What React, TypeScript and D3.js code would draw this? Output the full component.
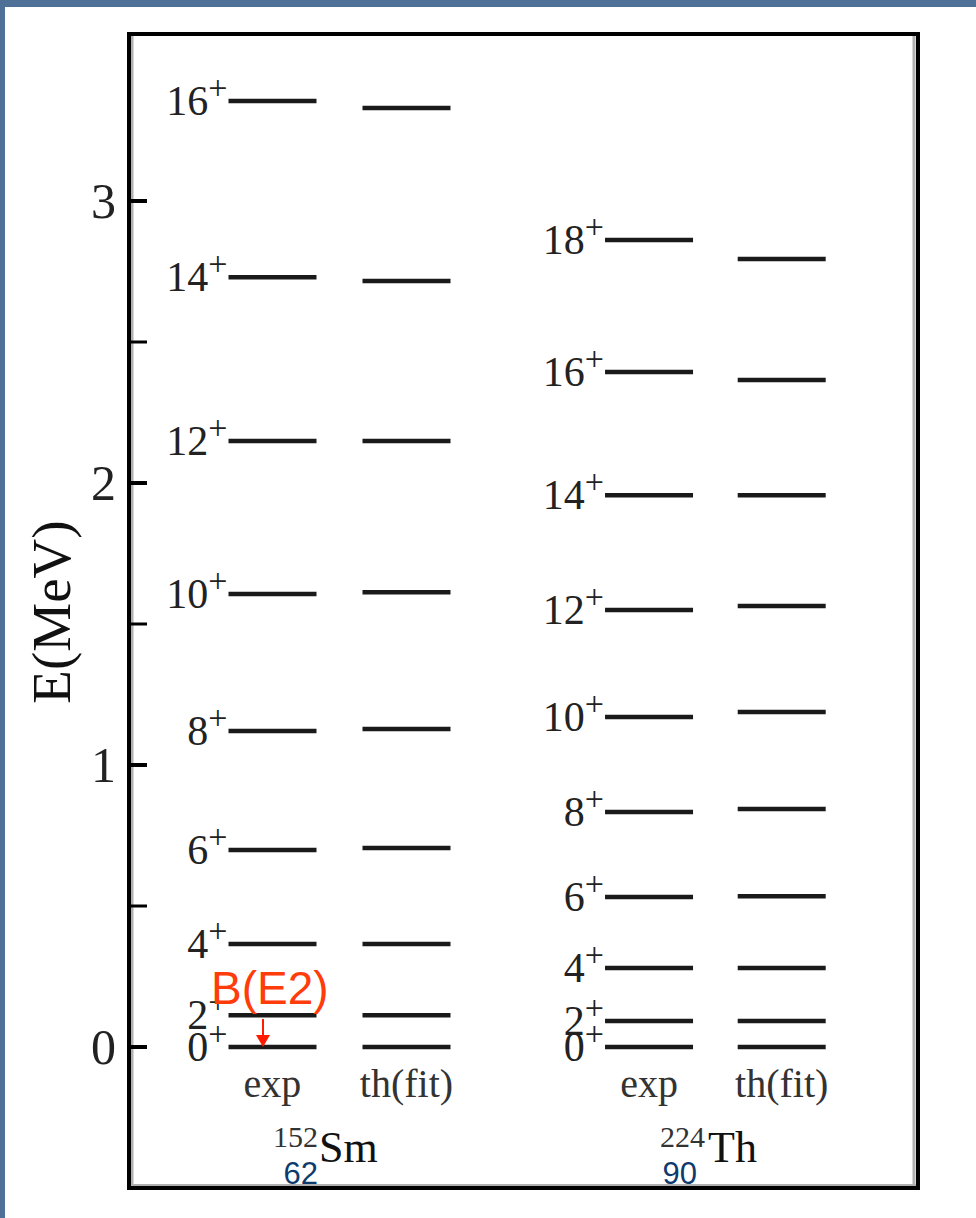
import React from "react";
import * as d3 from "d3";

// level energies in MeV
const spinsSm = [0, 2, 4, 6, 8, 10, 12, 14, 16];
const smExp = [0, 0.113, 0.365, 0.699, 1.121, 1.606, 2.149, 2.73, 3.355];
const smTh = [0, 0.113, 0.365, 0.706, 1.128, 1.613, 2.149, 2.716, 3.33];

const spinsTh = [0, 2, 4, 6, 8, 10, 12, 14, 16, 18];
const thExp = [0, 0.092, 0.28, 0.532, 0.833, 1.17, 1.55, 1.957, 2.394, 2.862];
const thTh = [0, 0.092, 0.28, 0.535, 0.844, 1.188, 1.564, 1.957, 2.365, 2.794];

const majorTicks = [0, 1, 2, 3];
const minorTicks = [0.5, 1.5, 2.5];
const columnLabels = ["exp", "th(fit)", "exp", "th(fit)"];

const W = 976;
const H = 1218;
const frame = { left: 129, right: 918, top: 34, bottom: 1188 };

const serif = "'Liberation Serif', 'Times New Roman', serif";
const sans = "'Liberation Sans', Arial, sans-serif";

export default function App() {
  const y = d3.scaleLinear().domain([0, 1]).range([1047, 765]);
  // column centres in "column units"
  const x = d3.scaleLinear().domain([1, 2]).range([272.5, 406.5]);
  const half = 44;

  const columns = [
    { pos: 1, data: smExp, spins: spinsSm, label: true },
    { pos: 2, data: smTh, spins: spinsSm, label: false },
    { pos: 3.81, data: thExp, spins: spinsTh, label: true },
    { pos: 4.8, data: thTh, spins: spinsTh, label: false },
  ];

  const arrowX = 263;

  return (
    <svg
      width={W}
      height={H}
      style={{ position: "absolute", left: 0, top: 0, display: "block" }}
    >
      <rect x={0} y={0} width={W} height={H} fill="#fff" />
      <rect x={0} y={0} width={W} height={7} fill="#4f7097" />
      <rect x={0} y={0} width={5} height={H} fill="#4f7097" />

      {/* frame with its grey inner shading */}
      <line x1={frame.left + 3} x2={frame.left + 3} y1={frame.top} y2={frame.bottom} stroke="#b0b0b0" strokeWidth={3} />
      <line x1={frame.right - 4} x2={frame.right - 4} y1={frame.top} y2={frame.bottom} stroke="#b0b0b0" strokeWidth={3} />
      <line x1={frame.left} x2={frame.right} y1={frame.bottom - 3} y2={frame.bottom - 3} stroke="#b0b0b0" strokeWidth={2} />
      <rect
        x={frame.left}
        y={frame.top}
        width={frame.right - frame.left}
        height={frame.bottom - frame.top}
        fill="none"
        stroke="#000"
        strokeWidth={4}
      />

      {/* y axis */}
      {majorTicks.map((t) => (
        <g key={"M" + t}>
          <line x1={frame.left} x2={frame.left + 18} y1={y(t)} y2={y(t)} stroke="#000" strokeWidth={4} />
          <text x={116} y={y(t) + 17} textAnchor="end" fontFamily={serif} fontSize={50} fill="#222">
            {t}
          </text>
        </g>
      ))}
      {minorTicks.map((t) => (
        <line key={"m" + t} x1={frame.left} x2={frame.left + 18} y1={y(t)} y2={y(t)} stroke="#000" strokeWidth={3} />
      ))}
      <text
        transform="translate(70,612) rotate(-90)"
        textAnchor="middle"
        fontFamily={serif}
        fontSize={55}
        fill="#111"
      >
        E(MeV)
      </text>

      {/* levels */}
      {columns.map((c, ci) => (
        <g key={ci}>
          {c.data.map((e, i) => (
            <g key={i}>
              <line
                x1={x(c.pos) - half}
                x2={x(c.pos) + half}
                y1={y(e)}
                y2={y(e)}
                stroke="#1a1a1a"
                strokeWidth={4.5}
              />
              {c.label && (
                <text
                  x={x(c.pos) - half - 1}
                  y={y(e) + 14}
                  textAnchor="end"
                  fontFamily={serif}
                  fontSize={42}
                  fill="#222"
                >
                  {c.spins[i]}
                  <tspan fontSize={34} dy={-16}>+</tspan>
                </text>
              )}
            </g>
          ))}
          <text
            x={x(c.pos)}
            y={1097}
            textAnchor="middle"
            fontFamily={serif}
            fontSize={40}
            fill="#333"
          >
            {columnLabels[ci]}
          </text>
        </g>
      ))}

      {/* nucleus labels */}
      <text x={318} y={1147} textAnchor="end" fontFamily={serif} fontSize={30} fill="#333">152</text>
      <text x={319} y={1162} fontFamily={serif} fontSize={44} fill="#111">Sm</text>
      <text x={318} y={1184} textAnchor="end" fontFamily={sans} fontSize={31} fill="#0d3b6e">62</text>

      <text x={705} y={1147} textAnchor="end" fontFamily={serif} fontSize={30} fill="#333">224</text>
      <text x={708} y={1162} fontFamily={serif} fontSize={44} fill="#111">Th</text>
      <text x={697} y={1184} textAnchor="end" fontFamily={sans} fontSize={31} fill="#0d3b6e">90</text>

      {/* B(E2) annotation */}
      <text x={211} y={1004} fontFamily={sans} fontSize={46} fill="#ff3c0a">B(E2)</text>
      <line x1={arrowX} x2={arrowX} y1={1019} y2={1037} stroke="#ff1a00" strokeWidth={2} />
      <polygon
        points={`${arrowX - 7},${1035} ${arrowX + 7},${1035} ${arrowX},${y(0)}`}
        fill="#ff1a00"
      />
    </svg>
  );
}
